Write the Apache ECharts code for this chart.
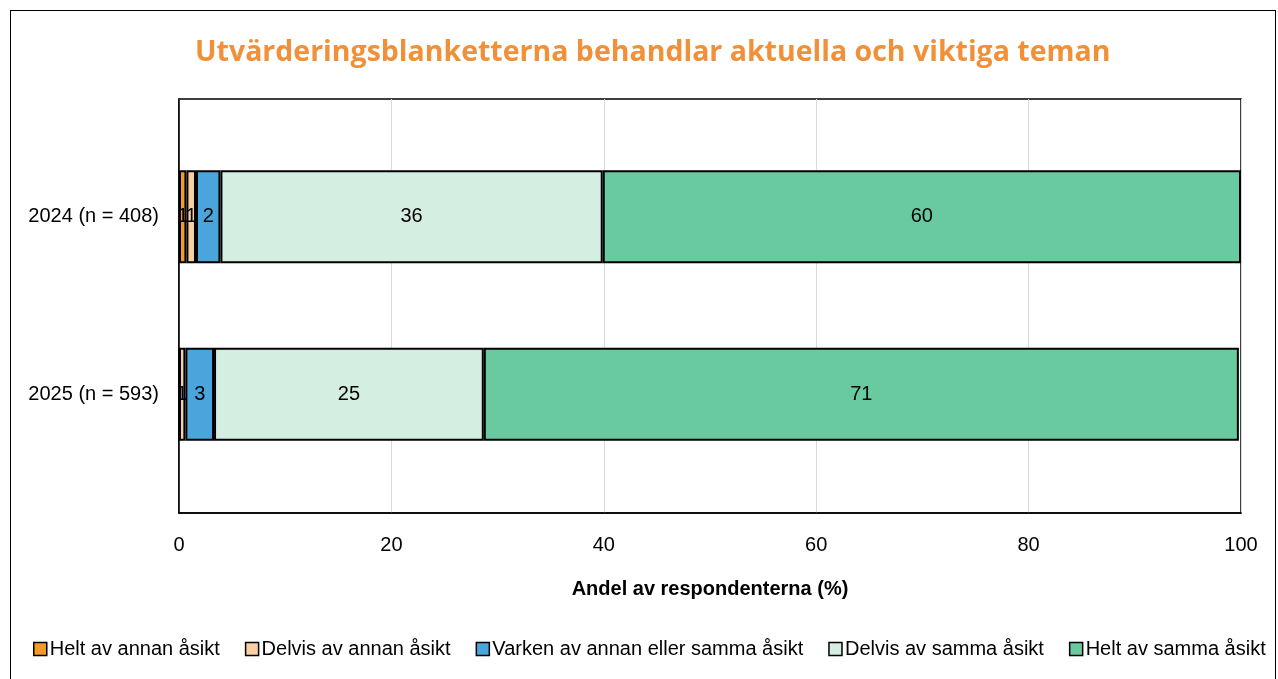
<!DOCTYPE html>
<html>
<head>
<meta charset="utf-8">
<script src="https://cdn.jsdelivr.net/npm/echarts@6/dist/echarts.min.js"></script>
<style>
  html, body { margin: 0; padding: 0; background: #fff; }
  #frame {
    position: absolute; left: 10px; top: 10px;
    width: 1266px; height: 690px;
    border: 1px solid #000; box-sizing: border-box;
  }
  #chart { position: absolute; left: 0; top: 0; width: 1278px; height: 679px; }
</style>
</head>
<body>
<div id="frame"></div>
<div id="chart"></div>
<script>
/* ===== data ===== */
const years = ["2024 (n = 408)", "2025 (n = 593)"];
const seriesNames = [
  "Helt av annan åsikt",
  "Delvis av annan åsikt",
  "Varken av annan eller samma åsikt",
  "Delvis av samma åsikt",
  "Helt av samma åsikt",
];
const heltAnnan = [0.7, 0];
const delvisAnnan = [0.9, 0.6];
const varken = [2.3, 2.7];
const delvisSamma = [36.0, 25.4];
const heltSamma = [60.1, 71.1];
const xTicks = [0, 20, 40, 60, 80, 100];

const colors = ["#F39A2B", "#F9D0A3", "#4BA5DD", "#D5EEE2", "#69CA9F"];
const values = [heltAnnan, delvisAnnan, varken, delvisSamma, heltSamma];

const chart = echarts.init(document.getElementById("chart"));

/* grid 0 = plot frame + x axis, grid 1 = bars (Excel-like category spacing) */
chart.setOption({
  animation: false,
  color: colors,
  textStyle: { fontFamily: "Liberation Sans, Arial, sans-serif" },
  title: {
    text: "Utvärderingsblanketterna behandlar aktuella och viktiga teman",
    left: 190,
    top: 33,
    textStyle: {
      fontFamily: "Open Sans",
      fontWeight: "bold",
      fontSize: 28.5,
      color: "#F0913A",
    },
  },
  grid: [
    {
      left: 179,
      right: 37,
      top: 99,
      bottom: 166,
      show: true,
      borderColor: "#000",
      borderWidth: 1.5,
    },
    {
      left: 179,
      right: 37,
      top: 128,
      bottom: 196,
    },
  ],
  xAxis: [
    {
      type: "value",
      gridIndex: 0,
      min: xTicks[0],
      max: xTicks[xTicks.length - 1],
      interval: 20,
      name: "Andel av respondenterna (%)",
      nameLocation: "middle",
      nameGap: 66,
      nameTextStyle: { fontSize: 20, fontWeight: "bold", color: "#000" },
      axisLine: { show: true, lineStyle: { color: "#000", width: 1.5 } },
      axisTick: { show: false },
      axisLabel: { fontSize: 20, color: "#000", margin: 22 },
      splitLine: { lineStyle: { color: "#D9D9D9", width: 1 } },
    },
    {
      type: "value",
      gridIndex: 1,
      min: xTicks[0],
      max: xTicks[xTicks.length - 1],
      show: false,
      splitLine: { show: false },
    },
  ],
  yAxis: [
    {
      type: "category",
      gridIndex: 0,
      data: [],
      axisLine: { show: true, lineStyle: { color: "#000", width: 1.5 } },
      axisTick: { show: false },
      axisLabel: { show: false },
    },
    {
      type: "category",
      gridIndex: 1,
      data: years,
      inverse: true,
      axisLine: { show: false },
      axisTick: { show: false },
      axisLabel: { fontSize: 20, color: "#000", margin: 20 },
    },
  ],
  legend: {
    bottom: 15,
    left: 28,
    itemWidth: 13,
    itemHeight: 13,
    itemGap: 25,
    icon: "rect",
    textStyle: { fontSize: 20, color: "#000", padding: [0, 0, 0, -2] },
    itemStyle: { borderColor: "#000", borderWidth: 1.5 },
    data: seriesNames,
  },
  series: seriesNames.map((name, i) => ({
    name: name,
    type: "bar",
    stack: "total",
    xAxisIndex: 1,
    yAxisIndex: 1,
    data: values[i],
    barWidth: 93,
    itemStyle: { borderColor: "#000", borderWidth: 2 },
    label: {
      show: true,
      position: "inside",
      fontSize: 20,
      color: "#000",
      formatter: (p) => (p.value > 0 ? Math.round(p.value) : ""),
    },
  })),
});
</script>
</body>
</html>
